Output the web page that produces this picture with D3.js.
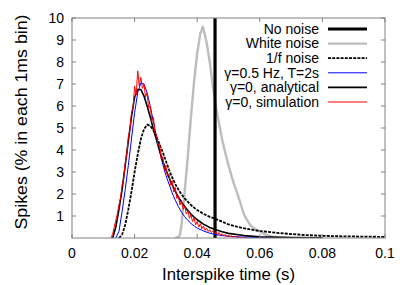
<!DOCTYPE html>
<html>
<head>
  <meta charset="utf-8">
  <title>Interspike time histograms</title>
  <script src="https://d3js.org/d3.v7.min.js"></script>
  <style>
    body { margin: 0; background: #fff; }
    text { font-family: "Liberation Sans", Arial, sans-serif; fill: #000; }
  </style>
</head>
<body>
<script>
  // x values in seconds, y values in % per 1 ms bin
  var noNoiseX = 0.0457;

  var whiteX = [0.033, 0.034, 0.0345, 0.035, 0.036, 0.037, 0.038, 0.039, 0.040, 0.041, 0.0418, 0.042,
                0.043, 0.044, 0.045, 0.046, 0.047, 0.048, 0.049, 0.050, 0.051, 0.052, 0.053, 0.054,
                0.055, 0.056, 0.057, 0.058, 0.059, 0.060, 0.062, 0.064, 0.066, 0.070];
  var whiteY = [0, 0.05, 0.15, 0.6, 2.1, 3.7, 5.5, 7.1, 8.4, 9.3, 9.6, 9.5,
                8.9, 8.0, 6.9, 5.95, 5.2, 4.45, 3.85, 3.3, 2.8, 2.35, 1.95, 1.5,
                1.05, 0.8, 0.58, 0.45, 0.36, 0.3, 0.14, 0.06, 0.02, 0];

  var pinkX = [0.015, 0.016, 0.017, 0.018, 0.019, 0.020, 0.021, 0.022, 0.023, 0.024, 0.025, 0.026,
               0.027, 0.028, 0.029, 0.030, 0.031, 0.032, 0.033, 0.034, 0.035, 0.036, 0.037, 0.038,
               0.039, 0.040, 0.042, 0.044, 0.046, 0.048, 0.050, 0.053, 0.056, 0.060, 0.065, 0.070,
               0.075, 0.080, 0.085, 0.090, 0.095, 0.100];
  var pinkY = [0, 0.15, 0.6, 1.3, 2.1, 3.0, 3.8, 4.5, 4.95, 5.15, 5.1, 4.9,
               4.6, 4.25, 3.9, 3.5, 3.1, 2.75, 2.45, 2.2, 1.98, 1.8, 1.65, 1.5,
               1.38, 1.27, 1.1, 0.96, 0.86, 0.74, 0.62, 0.5, 0.41, 0.32, 0.24, 0.18,
               0.13, 0.10, 0.08, 0.07, 0.06, 0.05];

  var gammaX = [0.014, 0.015, 0.016, 0.017, 0.018, 0.019, 0.020, 0.021, 0.022, 0.023, 0.024, 0.025,
                0.026, 0.027, 0.028, 0.029, 0.030, 0.031, 0.032, 0.033, 0.034, 0.035, 0.036, 0.037,
                0.038, 0.039, 0.040, 0.042, 0.044, 0.046, 0.048, 0.050, 0.055, 0.060, 0.070];
  var gammaY = [0, 0.3, 1.2, 2.2, 3.3, 4.5, 5.7, 6.6, 7.05, 7.0, 6.6, 6.0,
                5.3, 4.6, 3.95, 3.35, 2.85, 2.45, 2.05, 1.72, 1.42, 1.17, 0.97, 0.80,
                0.66, 0.55, 0.45, 0.32, 0.22, 0.15, 0.11, 0.08, 0.04, 0.02, 0.005];

  var analyticX = [0.013, 0.014, 0.015, 0.016, 0.017, 0.018, 0.019, 0.020, 0.021, 0.022, 0.023, 0.024,
                   0.025, 0.026, 0.027, 0.028, 0.029, 0.030, 0.031, 0.032, 0.033, 0.034, 0.035, 0.036,
                   0.037, 0.038, 0.039, 0.040, 0.042, 0.044, 0.046, 0.048, 0.050, 0.055, 0.060, 0.070, 0.080];
  var analyticY = [0, 0.5, 1.3, 2.2, 3.3, 4.4, 5.5, 6.4, 6.75, 6.75, 6.45, 6.0,
                   5.5, 4.95, 4.45, 3.95, 3.5, 3.1, 2.75, 2.42, 2.12, 1.86, 1.63, 1.43,
                   1.25, 1.09, 0.95, 0.83, 0.63, 0.48, 0.37, 0.28, 0.21, 0.11, 0.06, 0.02, 0.005];

  // simulation histogram, one value every 0.5 ms starting at 12.5 ms
  var simStart = 0.0125, simStep = 0.0005;
  var simY = [0.0, 0.2, 0.5, 0.8, 1.1, 1.5, 1.8, 2.4, 2.7, 3.4, 3.8, 4.6, 4.9, 5.7, 5.9, 6.9,
              6.5, 7.6, 6.9, 7.3, 6.8, 7.0, 6.4, 6.6, 5.9, 6.0, 5.3, 5.5, 4.8, 4.7, 4.2, 4.3,
              3.6, 3.7, 3.1, 3.3, 2.8, 2.9, 2.4, 2.6, 2.1, 2.3, 1.8, 1.9, 1.5, 1.7, 1.3, 1.45,
              1.1, 1.25, 0.9, 1.05, 0.75, 0.9, 0.6, 0.75, 0.5, 0.65, 0.42, 0.55, 0.35, 0.45,
              0.3, 0.38, 0.25, 0.32, 0.2, 0.28, 0.15, 0.25, 0.12, 0.2, 0.1, 0.16, 0.06, 0.14,
              0.05, 0.1, 0.03, 0.08, 0.04, 0.02, 0.05, 0.01, 0.0, 0.03, 0.0];

  var xTicks = [0, 0.02, 0.04, 0.06, 0.08, 0.1];
  var xTickLabels = ["0", "0.02", "0.04", "0.06", "0.08", "0.1"];
  var yTicks = [1, 2, 3, 4, 5, 6, 7, 8, 9, 10];

  var legendNames = ["No noise", "White noise", "1/f noise", "\u03b3=0.5 Hz, T=2s",
                     "\u03b3=0, analytical", "\u03b3=0, simulation"];

  function zip(xs, ys) {
    return xs.map(function (x, i) { return [x, ys[i]]; });
  }

  function draw() {
    var W = 407, H = 285;
    var left = 72, right = 385, top = 18, bottom = 238;

    var svg = d3.select("body").append("svg")
      .attr("width", W).attr("height", H);

    var x = d3.scaleLinear().domain([0, 0.1]).range([left, right]);
    var y = d3.scaleLinear().domain([0, 10]).range([bottom, top]);

    svg.append("clipPath").attr("id", "clip")
      .append("rect").attr("x", left).attr("y", top)
      .attr("width", right - left).attr("height", bottom - top);

    var line = d3.line().x(function (d) { return x(d[0]); }).y(function (d) { return y(d[1]); });

    var simData = simY.map(function (v, i) { return [simStart + i * simStep, v]; });

    // style per series, same order as the legend
    var styles = [
      { color: "#000", width: 3.2, dash: null },
      { color: "#bdbdbd", width: 2.4, dash: null },
      { color: "#000", width: 1.8, dash: "3,1.2" },
      { color: "#0000ff", width: 1, dash: null },
      { color: "#000", width: 1.6, dash: null },
      { color: "#ff0000", width: 1, dash: null }
    ];

    var series = [
      { data: [[noNoiseX, 0], [noNoiseX, 10]], st: styles[0] },
      { data: zip(whiteX, whiteY), st: styles[1] },
      { data: zip(pinkX, pinkY), st: styles[2] },
      { data: zip(gammaX, gammaY), st: styles[3] },
      { data: zip(analyticX, analyticY), st: styles[4] },
      { data: simData, st: styles[5] }
    ];

    var plot = svg.append("g").attr("clip-path", "url(#clip)");
    // grey first so the vertical line sits on top of it
    [1, 0, 2, 3, 4, 5].forEach(function (k) {
      var s = series[k];
      plot.append("path")
        .attr("d", line(s.data))
        .attr("fill", "none")
        .attr("stroke", s.st.color)
        .attr("stroke-width", s.st.width)
        .attr("stroke-dasharray", s.st.dash)
        .attr("stroke-linejoin", "round");
    });

    // frame and inward ticks
    var axisCol = "#808080";
    svg.append("rect")
      .attr("x", left).attr("y", top)
      .attr("width", right - left).attr("height", bottom - top)
      .attr("fill", "none").attr("stroke", axisCol).attr("stroke-width", 1);

    var tk = 4;
    xTicks.forEach(function (t, i) {
      svg.append("line").attr("x1", x(t)).attr("x2", x(t))
        .attr("y1", bottom).attr("y2", bottom - tk).attr("stroke", axisCol);
      svg.append("line").attr("x1", x(t)).attr("x2", x(t))
        .attr("y1", top).attr("y2", top + tk).attr("stroke", axisCol);
      svg.append("text")
        .attr("x", x(t)).attr("y", 258)
        .attr("text-anchor", "middle")
        .style("font-size", "14px")
        .text(xTickLabels[i]);
    });

    yTicks.forEach(function (t) {
      svg.append("line").attr("x1", left).attr("x2", left + tk)
        .attr("y1", y(t)).attr("y2", y(t)).attr("stroke", axisCol);
      svg.append("line").attr("x1", right).attr("x2", right - tk)
        .attr("y1", y(t)).attr("y2", y(t)).attr("stroke", axisCol);
      svg.append("text")
        .attr("x", 64).attr("y", y(t) + 5)
        .attr("text-anchor", "end")
        .style("font-size", "14px")
        .text(t);
    });

    // axis titles
    svg.append("text")
      .attr("x", (left + right) / 2).attr("y", 280)
      .attr("text-anchor", "middle")
      .attr("textLength", 133).attr("lengthAdjust", "spacingAndGlyphs")
      .style("font-size", "16px")
      .text("Interspike time (s)");

    svg.append("text")
      .attr("transform", "translate(27,122) rotate(-90)")
      .attr("text-anchor", "middle")
      .attr("textLength", 215).attr("lengthAdjust", "spacingAndGlyphs")
      .style("font-size", "16px")
      .text("Spikes (% in each 1ms bin)");

    // legend
    legendNames.forEach(function (name, i) {
      var ly = 29 + i * 14.6;
      svg.append("text")
        .attr("x", 319).attr("y", ly + 4.8)
        .attr("text-anchor", "end")
        .style("font-size", "14px")
        .text(name);
      svg.append("line")
        .attr("x1", 328).attr("x2", 367)
        .attr("y1", ly).attr("y2", ly)
        .attr("stroke", styles[i].color)
        .attr("stroke-width", styles[i].width)
        .attr("stroke-dasharray", styles[i].dash);
    });
  }

  draw();
</script>
</body>
</html>
